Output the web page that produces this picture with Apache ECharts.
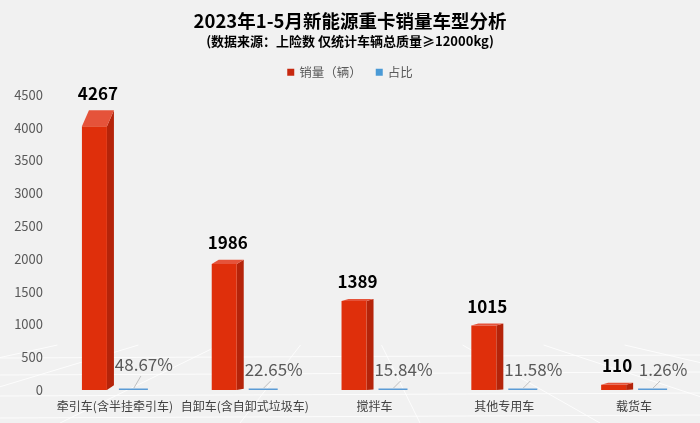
<!DOCTYPE html>
<html>
<head>
<meta charset="utf-8">
<script src="https://cdn.jsdelivr.net/npm/echarts@6/dist/echarts.min.js"></script>
<style>html,body{margin:0;padding:0;background:#f1f1f1;}#main{width:700px;height:423px;}</style>
</head>
<body>
<div id="main"></div>
<script>
var categories = ['牵引车(含半挂牵引车)', '自卸车(含自卸式垃圾车)', '搅拌车', '其他专用车', '载货车'];
var sales = [4267, 1986, 1389, 1015, 110];
var shares = [48.67, 22.65, 15.84, 11.58, 1.26];
var yTicks = [0, 500, 1000, 1500, 2000, 2500, 3000, 3500, 4000, 4500];

var FONT = '"Noto Sans CJK SC", "Noto Sans", sans-serif';
var chart = echarts.init(document.getElementById('main'), null, {renderer: 'canvas'});

function renderSales(params, api) {
  var cat = api.value(0), val = api.value(1);
  var p = api.coord([cat, val]);
  var base = api.coord([cat, 0]);
  var band = api.size([1, 0])[0];
  var x0 = p[0] - band * 0.254;
  var w = 25, dx = 7;
  var h = base[1] - p[1];
  var dy = Math.max(2, 0.08 * h - 6.3);
  var yb = p[1];          // back top
  var yf = p[1] + dy;     // front top
  return {
    type: 'group',
    children: [
      {type: 'polygon', shape: {points: [[x0 + w, yf], [x0 + w + dx, yb], [x0 + w + dx, base[1] - dy * 0.3], [x0 + w, base[1]]]}, style: {fill: '#b5240a'}},
      {type: 'rect', shape: {x: x0, y: yf, width: w, height: base[1] - yf}, style: {fill: '#df2f0b'}},
      {type: 'polygon', shape: {points: [[x0, yf], [x0 + w, yf], [x0 + w + dx, yb], [x0 + dx, yb]]}, style: {fill: '#e5533a'}},
      {type: 'text', style: {text: String(val), x: x0 + (w + dx) / 2, y: yb - 17, textAlign: 'center', textVerticalAlign: 'middle', font: 'bold 17px ' + FONT, fill: '#000'}}
    ]
  };
}

function renderShare(params, api) {
  var cat = api.value(0), val = api.value(1);
  var base = api.coord([cat, 0]);
  var p = api.coord([cat, val / 100]);
  var x0 = base[0] + 4, w = 29;
  var ly = params.dataIndex === 0 ? base[1] - 25 : base[1] - 20;
  return {
    type: 'group',
    children: [
      {type: 'rect', shape: {x: x0, y: Math.min(p[1], base[1] - 1.5), width: w, height: Math.max(1.5, base[1] - p[1])}, style: {fill: '#5b9bd5'}},
      {type: 'line', shape: {x1: x0 + 22, y1: ly + 11, x2: x0 + 15, y2: base[1] - 2}, style: {stroke: '#bfbfbf', lineWidth: 1}},
      {type: 'text', style: {text: val.toFixed(2) + '%', x: x0 + 25, y: ly, textAlign: 'center', textVerticalAlign: 'middle', font: '17px ' + FONT, fill: '#595959'}}
    ]
  };
}

var floorLines = [];
(function () {
  var xs = [-300, -120, 60, 240, 420, 600, 780, 960, 1140];
  for (var i = 0; i < xs.length; i++) {
    floorLines.push({type: 'line', silent: true, z: -1, shape: {x1: 350 + (xs[i] - 350) * 0.45, y1: 345, x2: xs[i], y2: 423}, style: {stroke: 'rgba(255,255,255,0.8)', lineWidth: 1}});
  }
  var ys = [358, 375, 396, 418];
  for (var j = 0; j < ys.length; j++) {
    floorLines.push({type: 'line', silent: true, z: -1, shape: {x1: 0, y1: ys[j], x2: 700, y2: ys[j] - 3}, style: {stroke: 'rgba(255,255,255,0.8)', lineWidth: 1}});
  }
})();

chart.setOption({
  backgroundColor: '#f1f1f1',
  animation: false,
  title: {
    text: '2023年1-5月新能源重卡销量车型分析',
    subtext: '(数据来源：上险数 仅统计车辆总质量≥12000kg)',
    left: 'center',
    top: 7,
    itemGap: 4,
    textStyle: {fontFamily: FONT, fontSize: 18.5, fontWeight: 'bold', color: '#000'},
    subtextStyle: {fontFamily: FONT, fontSize: 13, fontWeight: 'bold', color: '#000'}
  },
  legend: {
    top: 61,
    left: 'center',
    itemWidth: 7,
    itemHeight: 7,
    itemGap: 14,
    icon: 'rect',
    textStyle: {fontFamily: FONT, fontSize: 12.5, color: '#595959'},
    data: [{name: '销量（辆）', itemStyle: {color: '#c7280f'}}, {name: '占比', itemStyle: {color: '#4a9ad6'}}]
  },
  graphic: floorLines,
  grid: {left: 50, right: 1, top: 95, bottom: 33, containLabel: false},
  xAxis: {
    type: 'category',
    data: categories,
    axisLine: {show: false},
    axisTick: {show: false},
    axisLabel: {fontFamily: FONT, fontSize: 12, color: '#404040', margin: 10, interval: 0}
  },
  yAxis: {
    type: 'value',
    min: yTicks[0],
    max: yTicks[yTicks.length - 1],
    interval: 500,
    axisLine: {show: false},
    axisTick: {show: false},
    splitLine: {show: false},
    axisLabel: {fontFamily: FONT, fontSize: 13, color: '#595959', margin: 7, formatter: function (v) { return String(v); }}
  },
  series: [
    {name: '销量（辆）', type: 'custom', renderItem: renderSales, itemStyle: {color: '#c7280f'},
     encode: {x: 0, y: 1}, data: sales.map(function (v, i) { return [i, v]; })},
    {name: '占比', type: 'custom', renderItem: renderShare, itemStyle: {color: '#4a9ad6'},
     encode: {x: 0, y: 1}, data: shares.map(function (v, i) { return [i, v]; })}
  ]
});
</script>
</body>
</html>
